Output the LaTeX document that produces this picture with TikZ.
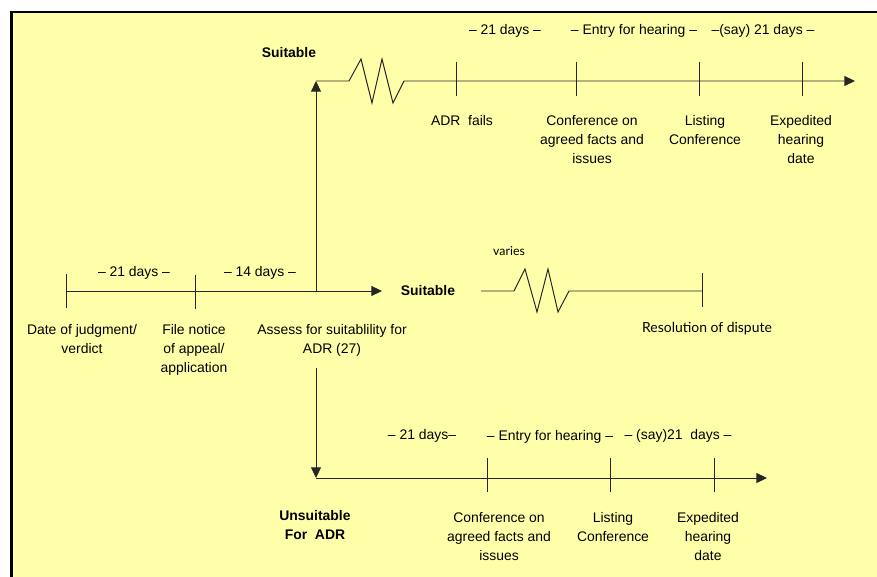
\documentclass[tikz,border=0pt]{standalone}
\usepackage{fontspec}
\setmainfont{Liberation Sans}
\newfontfamily\gillfont{Lato}
\usetikzlibrary{arrows.meta}
\definecolor{paleyellow}{RGB}{255,255,170}

\begin{document}
\begin{tikzpicture}[x=0.025cm, y=-0.025cm,
    timeline/.style={draw=black!85, line width=0.7pt},
    arrowline/.style={timeline, -{Triangle[length=7.5pt, width=7pt]}},
    tickmark/.style={draw=black!85, line width=0.7pt},
    period/.style={font=\fontsize{9.9}{13.5}\selectfont, inner sep=0pt},
    event/.style={font=\fontsize{9.9}{13.5}\selectfont, align=center, anchor=north, inner sep=0pt},
    branch/.style={font=\bfseries\fontsize{9.9}{13.5}\selectfont, align=center, inner sep=0pt},
    note/.style={font=\gillfont\fontsize{9.9}{13.5}\selectfont, inner sep=0pt}
]

% Frame (cut off at the right and bottom)
\useasboundingbox (0,0) rectangle (877,577);
\fill[white] (0,0) rectangle (877,577);
\clip (0,0) rectangle (877,577);
\draw[black, line width=1.5pt, fill=paleyellow] (11.5,12) rectangle (900,600);

% Points on the three time lines
\coordinate (judg) at (66,291);
\coordinate (notice) at (195,291);
\coordinate (assess) at (316,291);
\coordinate (midend) at (382,291);
\coordinate (topstart) at (316,81);
\coordinate (topzig) at (349,81);
\coordinate (adrfail) at (456,81);
\coordinate (confA) at (576,81);
\coordinate (listA) at (699,81);
\coordinate (expA) at (802,81);
\coordinate (topend) at (855,81);
\coordinate (resstart) at (481,291);
\coordinate (reszig) at (514,291);
\coordinate (resend) at (702,291);
\coordinate (downstart) at (316,368);
\coordinate (botstart) at (316,478);
\coordinate (confB) at (487,478);
\coordinate (listB) at (610,478);
\coordinate (expB) at (714,478);
\coordinate (botend) at (767,478);

% Main line: judgment -> assessment
\draw[arrowline] (judg) -- (midend);
\draw[tickmark] (judg) ++(0,-17) -- ++(0,34);
\draw[tickmark] (notice) ++(0,-16) -- ++(0,34);
\node[period] (d21) at (134,273) {– 21 days –};
\node[period] (d14) at (260,273) {– 14 days –};
\node[event] (judgtxt) at (82,324) {Date of judgment/\\verdict};
\node[event] (noticetxt) at (194,324) {File notice\\of appeal/\\application};
\node[event] (assesstxt) at (332,324) {Assess for suitablility for\\ADR (27)};

% Branch up: suitable, ADR fails
\draw[arrowline] (assess) -- (topstart);
\node[branch] (suitA) at (289,53) {Suitable};
\draw[arrowline] (topstart) -- (topzig) -- ++(12,-22) -- ++(11,44) -- ++(10,-44) -- ++(11,44) -- ++(11,-22) -- (topend);
\foreach \t in {adrfail,confA,listA,expA}
  \draw[tickmark] (\t) ++(0,-19) -- ++(0,34);
\node[period] (topd21) at (505,31) {– 21 days –};
\node[period] (topentry) at (634,31) {– Entry for hearing –};
\node[period] (topsay) at (763,31) {–(say) 21 days –};
\node[event] (adrtxt) at (462,115) {ADR~ fails};
\node[event] (confAtxt) at (592,115) {Conference on\\agreed facts and\\issues};
\node[event] (listAtxt) at (705,115) {Listing\\Conference};
\node[event] (expAtxt) at (801,115) {Expedited\\hearing\\date};

% Straight on: suitable, resolution
\node[branch] (suitB) at (428,291) {Suitable};
\draw[timeline] (resstart) -- (reszig) -- ++(11,-22) -- ++(12,43) -- ++(11,-43) -- ++(10,43) -- ++(11,-21) -- (resend);
\draw[tickmark] (resend) ++(0,-18) -- ++(0,34);
\node[note, font=\gillfont\fontsize{8.8}{10}\selectfont] (varies) at (509,251) {varies};
\node[note] (restxt) at (707,329) {Resolution of dispute};

% Branch down: unsuitable for ADR
\draw[arrowline] (downstart) -- (botstart);
\draw[arrowline] (botstart) -- (botend);
\foreach \t in {confB,listB,expB}
  \draw[tickmark] (\t) ++(0,-20) -- ++(0,34);
\node[period] (botd21) at (422,436) {– 21 days–};
\node[period] (botentry) at (550,437) {– Entry for hearing –};
\node[period] (botsay) at (678,436) {– (say)21~ days –};
\node[branch, anchor=north] (unsuit) at (315,510) {Unsuitable\\For~ ADR};
\node[event] (confBtxt) at (499,512) {Conference on\\agreed facts and\\issues};
\node[event] (listBtxt) at (613,512) {Listing\\Conference};
\node[event] (expBtxt) at (708,512) {Expedited\\hearing\\date};

\end{tikzpicture}
\end{document}
